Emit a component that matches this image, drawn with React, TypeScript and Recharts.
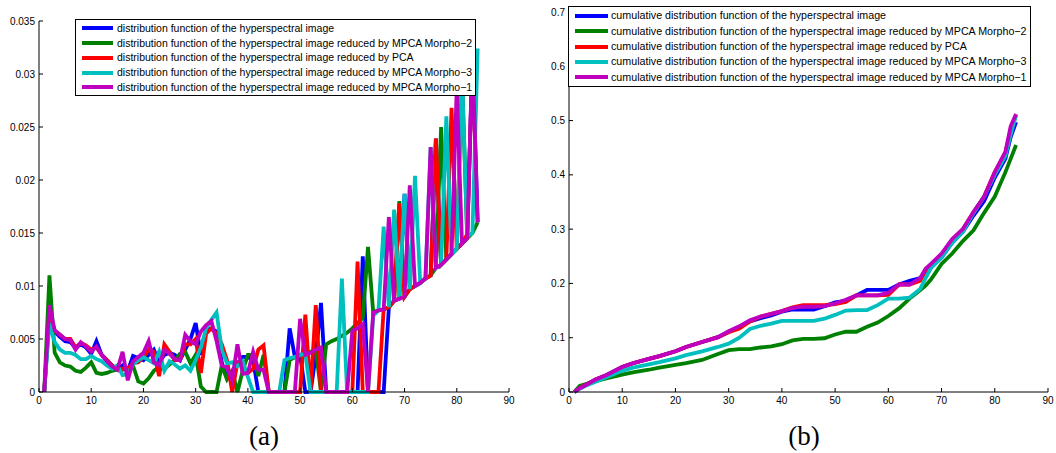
import React from 'react';
import { LineChart, Line, XAxis, YAxis, Legend } from 'recharts';

const FONT = '"Liberation Sans", Arial, Helvetica, sans-serif';
const SERIES_KEYS = ['blue', 'green', 'red', 'cyan', 'magenta'];
const COLORS: Record<string, string> = {
  blue: '#0000ff',
  green: '#008000',
  red: '#ff0000',
  cyan: '#00bfbf',
  magenta: '#bf00bf',
};

// ---------- Panel (a): distribution functions, x = 1..84 ----------
const xA = Array.from({ length: 84 }, (_, i) => i + 1);

const blueA = [
  0, 0.0075, 0.0057, 0.0052, 0.0048, 0.0047, 0.0042, 0.0045, 0.0042, 0.0036,
  0.0048, 0.0035, 0.003, 0.0025, 0.0022, 0.0025, 0.002, 0.0034, 0.0032, 0.003,
  0.0035, 0.004, 0.0028, 0.0035, 0.0037, 0.0035, 0.003, 0.004, 0.005, 0.0065,
  0.0035, 0.0058, 0.006, 0.0057, 0.0028, 0.0013, 0.002, 0.0025, 0.0033, 0.0033,
  0.003, 0, 0, 0, 0, 0, 0, 0.006, 0.0033, 0.0035,
  0, 0, 0.0035, 0.0084, 0, 0, 0, 0, 0, 0,
  0, 0.0128, 0, 0, 0, 0, 0.008, 0.0086, 0.0088, 0.0187,
  0.0097, 0.01, 0.0103, 0.0107, 0.011, 0.0239, 0.012, 0.0125, 0.013, 0.0135,
  0.014, 0.0145, 0.0318, 0.016,
];
const greenA = [
  0, 0.011, 0.0037, 0.0028, 0.0025, 0.0024, 0.002, 0.0019, 0.0023, 0.0028,
  0.0018, 0.0017, 0.0018, 0.002, 0.0021, 0.0021, 0.0022, 0.0025, 0.001, 0.0008,
  0.0013, 0.002, 0.0024, 0.0022, 0.0026, 0.003, 0.0036, 0.0038, 0.0027, 0.0035,
  0.0005, 0, 0, 0, 0.0025, 0.0012, 0.002, 0, 0.002, 0.0035,
  0.0035, 0.0015, 0.0035, 0, 0, 0, 0, 0.003, 0.0033, 0.0034,
  0.0036, 0.0038, 0.004, 0, 0.0045, 0.0048, 0.005, 0.0053, 0.0056, 0.006,
  0.0065, 0.007, 0.0137, 0.0075, 0.0077, 0.0078, 0.008, 0.0086, 0.018, 0.009,
  0.0097, 0.01, 0.0103, 0.0107, 0.011, 0.0117, 0.025, 0.0125, 0.013, 0.0135,
  0.03, 0.0145, 0.015, 0.016,
];
const redA = [
  0, 0.0075, 0.0058, 0.0054, 0.005, 0.005, 0.0042, 0.0046, 0.0044, 0.004,
  0.0042, 0.0035, 0.003, 0.0025, 0.0022, 0.0022, 0.0022, 0.0027, 0.0028, 0.0033,
  0.004, 0.0038, 0.0015, 0.0045, 0.0038, 0.003, 0.003, 0.0045, 0.0045, 0.005,
  0.0018, 0.0055, 0.006, 0.0055, 0.0045, 0.003, 0, 0.0028, 0.0025, 0.0018,
  0.0022, 0.004, 0.0044, 0, 0, 0, 0, 0, 0, 0,
  0.0073, 0, 0.0082, 0, 0, 0, 0, 0, 0, 0,
  0.0123, 0, 0, 0, 0, 0.0078, 0.008, 0.0086, 0.0178, 0.009,
  0.0097, 0.01, 0.0103, 0.0107, 0.011, 0.0239, 0.012, 0.0125, 0.0268, 0.0135,
  0.014, 0.0149, 0.031, 0.032,
];
const cyanA = [
  0, 0.0065, 0.0047, 0.004, 0.0037, 0.0037, 0.0035, 0.0031, 0.0031, 0.0034,
  0.0031, 0.0029, 0.0025, 0.0022, 0.0025, 0.0016, 0.0017, 0.0026, 0.003, 0.0033,
  0.003, 0.0027, 0.0038, 0.002, 0.0029, 0.0026, 0.0022, 0.0025, 0.002, 0.003,
  0.0042, 0.006, 0.0068, 0.0075, 0.004, 0.0027, 0.0028, 0.0024, 0.0029, 0.0014,
  0, 0, 0, 0, 0, 0, 0.003, 0.0032, 0.0033, 0.0035,
  0.0036, 0, 0, 0, 0, 0, 0, 0.0107, 0, 0,
  0, 0, 0, 0.0072, 0.0077, 0.0156, 0.008, 0.0172, 0.0088, 0.0187,
  0.0097, 0.0204, 0.0103, 0.0107, 0.0231, 0.0117, 0.012, 0.026, 0.013, 0.0135,
  0.03, 0.0147, 0.015, 0.0324,
];
const magentaA = [
  0, 0.0082, 0.0058, 0.0054, 0.005, 0.0049, 0.004, 0.0047, 0.0043, 0.0038,
  0.0043, 0.0035, 0.0029, 0.0024, 0.0021, 0.0038, 0.0011, 0.0029, 0.0033, 0.0037,
  0.0048, 0.0028, 0.0025, 0.004, 0.0036, 0.0031, 0.003, 0.0054, 0.0048, 0.0045,
  0.0057, 0.0063, 0.0067, 0.0048, 0.0025, 0.0023, 0.0011, 0.0045, 0.0017, 0.0018,
  0.0038, 0.0021, 0.0021, 0, 0, 0, 0, 0, 0, 0.0069,
  0.0035, 0.0037, 0.004, 0.0042, 0, 0, 0, 0, 0, 0.0058,
  0.006, 0.0064, 0, 0.0075, 0.0077, 0.0078, 0.0165, 0.0086, 0.0088, 0.009,
  0.0195, 0.01, 0.0103, 0.0107, 0.0231, 0.0117, 0.012, 0.0125, 0.013, 0.0288,
  0.014, 0.0145, 0.0318, 0.016,
];

// ---------- Panel (b): cumulative distribution functions ----------
const xB = [
  1, 2, 3, 5, 7, 10, 12, 15, 17, 20, 22, 25, 28, 30, 32, 34, 36, 38, 40, 42, 44, 46,
  48, 50, 52, 54, 56, 58, 60, 62, 64, 66, 67, 68, 70, 72, 74, 76, 78, 80, 82, 83, 84,
];
const blueB = [
  0, 0.007, 0.012, 0.023, 0.031, 0.046, 0.053, 0.061, 0.066, 0.075, 0.083, 0.092,
  0.101, 0.111, 0.12, 0.13, 0.136, 0.141, 0.148, 0.152, 0.152, 0.152, 0.158, 0.165,
  0.168, 0.178, 0.188, 0.188, 0.188, 0.198, 0.205, 0.21, 0.222, 0.23, 0.248, 0.275,
  0.295, 0.325, 0.352, 0.395, 0.43, 0.47, 0.497,
];
const greenB = [
  0, 0.011, 0.014, 0.02, 0.025, 0.032, 0.036, 0.041, 0.045, 0.05, 0.053, 0.059,
  0.07, 0.077, 0.079, 0.079, 0.082, 0.084, 0.088, 0.095, 0.098, 0.098, 0.099, 0.106,
  0.111, 0.111, 0.12, 0.128, 0.14, 0.154, 0.172, 0.188, 0.196, 0.207, 0.236, 0.255,
  0.278, 0.298, 0.33, 0.36, 0.405, 0.43, 0.455,
];
const redB = [
  0, 0.007, 0.012, 0.023, 0.031, 0.046, 0.053, 0.061, 0.066, 0.075, 0.083, 0.092,
  0.101, 0.11, 0.117, 0.13, 0.139, 0.144, 0.149, 0.156, 0.16, 0.16, 0.16, 0.162,
  0.166, 0.178, 0.178, 0.178, 0.179, 0.198, 0.198, 0.205, 0.224, 0.234, 0.253, 0.28,
  0.3, 0.33, 0.36, 0.405, 0.44, 0.485, 0.51,
];
const cyanB = [
  0, 0.006, 0.011, 0.019, 0.027, 0.039, 0.045, 0.051, 0.055, 0.062, 0.068, 0.075,
  0.083, 0.089, 0.1, 0.116, 0.122, 0.126, 0.131, 0.131, 0.131, 0.131, 0.135, 0.142,
  0.15, 0.151, 0.151, 0.16, 0.172, 0.172, 0.174, 0.19, 0.21, 0.228, 0.248, 0.275,
  0.295, 0.33, 0.36, 0.4, 0.435, 0.475, 0.51,
];
const magentaB = [
  0, 0.007, 0.012, 0.023, 0.031, 0.046, 0.053, 0.061, 0.066, 0.075, 0.083, 0.092,
  0.101, 0.112, 0.121, 0.132, 0.139, 0.144, 0.149, 0.155, 0.157, 0.157, 0.158, 0.163,
  0.17, 0.178, 0.178, 0.178, 0.183, 0.198, 0.198, 0.21, 0.227, 0.236, 0.255, 0.282,
  0.3, 0.332, 0.36, 0.405, 0.443, 0.49, 0.512,
];

// ---------- ticks and labels ----------
const xTicks = [0, 10, 20, 30, 40, 50, 60, 70, 80, 90];
const yTicksA = [0, 0.005, 0.01, 0.015, 0.02, 0.025, 0.03, 0.035];
const yTicksB = [0, 0.1, 0.2, 0.3, 0.4, 0.5, 0.6, 0.7];

const legendA = [
  'distribution function of the hyperspectral image',
  'distribution function of the hyperspectral image reduced by MPCA Morpho\u22122',
  'distribution function of the hyperspectral image reduced by PCA',
  'distribution function of the hyperspectral image reduced by MPCA Morpho\u22123',
  'distribution function of the hyperspectral image reduced by MPCA Morpho\u22121',
];
const legendB = [
  'cumulative distribution function of the hyperspectral image',
  'cumulative distribution function of the hyperspectral image reduced by MPCA Morpho\u22122',
  'cumulative distribution function of the hyperspectral image reduced by PCA',
  'cumulative distribution function of the hyperspectral image reduced by MPCA Morpho\u22123',
  'cumulative distribution function of the hyperspectral image reduced by MPCA Morpho\u22121',
];

const rowsA = xA.map((x, i) => ({
  x,
  blue: blueA[i],
  green: greenA[i],
  red: redA[i],
  cyan: cyanA[i],
  magenta: magentaA[i],
}));
const rowsB = xB.map((x, i) => ({
  x,
  blue: blueB[i],
  green: greenB[i],
  red: redB[i],
  cyan: cyanB[i],
  magenta: magentaB[i],
}));

const tickStyle = { fontSize: 10, fill: '#000', fontFamily: FONT };
const NoTick = () => <g />;

type LegendBoxProps = {
  labels: string[];
  width: number;
  height: number;
  padTop: number;
  rowHeight: number;
  swatchLeft: number;
  swatchWidth: number;
  textLeft: number;
  fontSize: number;
};

const LegendBox = ({ labels, width, height, padTop, rowHeight, swatchLeft, swatchWidth, textLeft, fontSize }: LegendBoxProps) => (
  <div
    style={{
      width,
      height,
      boxSizing: 'border-box',
      background: '#fff',
      border: '1px solid #000',
      paddingTop: padTop,
      fontFamily: FONT,
      fontSize,
      color: '#000',
    }}
  >
    {labels.map((lab, i) => (
      <div key={i} style={{ position: 'relative', height: rowHeight, whiteSpace: 'nowrap' }}>
        <span
          style={{
            position: 'absolute',
            left: swatchLeft,
            top: rowHeight / 2 - 2,
            width: swatchWidth,
            height: 4,
            background: COLORS[SERIES_KEYS[i]],
          }}
        />
        <span style={{ position: 'absolute', left: textLeft, top: 0, lineHeight: rowHeight + 'px' }}>{lab}</span>
      </div>
    ))}
  </div>
);

type PanelProps = {
  rows: any[];
  width: number;
  marginTop: number;
  marginRight: number;
  yMax: number;
  yTicks: number[];
  legend: LegendBoxProps;
  legendLeft: number;
  legendTop: number;
};

const Panel = ({ rows, width, marginTop, marginRight, yMax, yTicks, legend, legendLeft, legendTop }: PanelProps) => (
  <LineChart width={width} height={420} data={rows} margin={{ top: marginTop, right: marginRight, bottom: 0, left: 0 }}>
    <XAxis
      xAxisId="b"
      dataKey="x"
      type="number"
      domain={[0, 90]}
      ticks={xTicks}
      height={28}
      tickSize={-4}
      tickMargin={9}
      tick={tickStyle}
      stroke="#000"
      interval={0}
    />
    <XAxis
      xAxisId="t"
      orientation="top"
      dataKey="x"
      type="number"
      domain={[0, 90]}
      ticks={xTicks}
      height={0}
      tickSize={-4}
      tick={NoTick}
      stroke="#000"
      interval={0}
    />
    <YAxis
      yAxisId="l"
      type="number"
      domain={[0, yMax]}
      ticks={yTicks}
      width={39}
      tickSize={-4}
      tickMargin={8}
      tick={tickStyle}
      tickFormatter={(v: number) => String(v)}
      stroke="#000"
      interval={0}
    />
    <YAxis
      yAxisId="r"
      orientation="right"
      type="number"
      domain={[0, yMax]}
      ticks={yTicks}
      width={0}
      tickSize={-4}
      tick={NoTick}
      stroke="#000"
      interval={0}
    />
    {SERIES_KEYS.map((k) => (
      <Line
        key={k}
        xAxisId="b"
        yAxisId="l"
        type="linear"
        dataKey={k}
        stroke={COLORS[k]}
        strokeWidth={3.8}
        dot={false}
        activeDot={false}
        isAnimationActive={false}
      />
    ))}
    <Legend
      layout="vertical"
      align="center"
      verticalAlign="middle"
      wrapperStyle={{ left: legendLeft, top: legendTop, width: legend.width, height: legend.height }}
      content={() => <LegendBox {...legend} />}
    />
  </LineChart>
);

const legendPropsA: LegendBoxProps = {
  labels: legendA,
  width: 401,
  height: 77,
  padTop: 0.9,
  rowHeight: 14.8,
  swatchLeft: 6,
  swatchWidth: 31,
  textLeft: 41,
  fontSize: 10.5,
};
const legendPropsB: LegendBoxProps = {
  labels: legendB,
  width: 463,
  height: 81,
  padTop: 1.4,
  rowHeight: 15.3,
  swatchLeft: 6,
  swatchWidth: 33,
  textLeft: 42,
  fontSize: 10.7,
};

const captionStyle: React.CSSProperties = {
  position: 'absolute',
  width: 100,
  top: 418,
  textAlign: 'center',
  fontFamily: '"Liberation Serif", "DejaVu Serif", serif',
  fontSize: 27,
  lineHeight: '36px',
  color: '#000',
};

export default function App() {
  return (
    <div style={{ position: 'absolute', left: 0, top: 0, width: 1056, height: 453, background: '#fff', overflow: 'hidden' }}>
      <div style={{ position: 'absolute', left: 0, top: 0 }}>
        <Panel
          rows={rowsA}
          width={520}
          marginTop={21}
          marginRight={11}
          yMax={0.035}
          yTicks={yTicksA}
          legend={legendPropsA}
          legendLeft={75}
          legendTop={19}
        />
      </div>
      <div style={{ position: 'absolute', left: 530, top: 0 }}>
        <Panel
          rows={rowsB}
          width={526}
          marginTop={12}
          marginRight={8}
          yMax={0.7}
          yTicks={yTicksB}
          legend={legendPropsB}
          legendLeft={38}
          legendTop={6}
        />
      </div>
      <div style={{ ...captionStyle, left: 214 }}>(a)</div>
      <div style={{ ...captionStyle, left: 754 }}>(b)</div>
    </div>
  );
}
